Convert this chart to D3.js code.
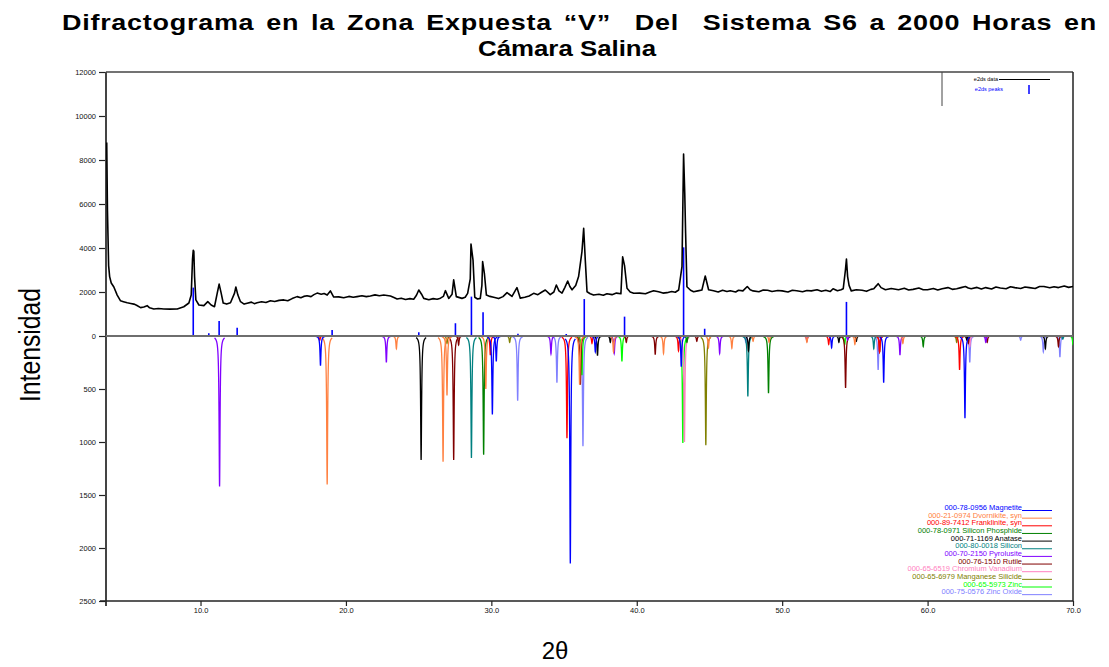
<!DOCTYPE html>
<html>
<head>
<meta charset="utf-8">
<script src="https://cdn.jsdelivr.net/npm/d3@7"></script>
<style>
  body { margin: 0; background: #fff; }
  text { font-family: "Liberation Sans", Arial, sans-serif; }
</style>
</head>
<body>
<svg width="1109" height="667"></svg>
<script>
// measured pattern (2theta, counts)
let dataPts = [[3.55,8800],[3.6,5700],[3.68,3200],[3.75,2700],[3.86,2410],[4.04,2230],[4.27,1860],[4.5,1600],[4.7,1560],[4.96,1510],[5.2,1480],[5.42,1450],[5.6,1400],[5.88,1290],[6.1,1320],[6.33,1380],[6.5,1280],[6.79,1230],[7.1,1250],[7.48,1230],[7.9,1220],[8.4,1230],[8.85,1330],[9.2,1500],[9.36,1860],[9.45,3500],[9.5,3900],[9.54,3850],[9.59,2700],[9.68,1640],[9.89,1410],[10.23,1380],[10.5,1560],[10.73,1410],[10.96,1330],[11.15,1950],[11.28,2360],[11.42,1950],[11.56,1500],[11.8,1450],[12.06,1510],[12.34,1950],[12.43,2230],[12.57,1860],[12.75,1560],[13.0,1450],[13.21,1490],[13.5,1540],[13.7,1470],[13.89,1510],[14.2,1560],[14.5,1520],[14.81,1600],[15.1,1570],[15.4,1620],[15.73,1640],[16.0,1600],[16.3,1700],[16.64,1790],[16.9,1740],[17.1,1800],[17.33,1830],[17.6,1790],[17.8,1880],[18.02,1950],[18.3,1900],[18.5,1930],[18.71,1860],[18.93,2050],[19.16,1770],[19.5,1780],[19.85,1740],[20.2,1800],[20.5,1760],[20.77,1790],[21.1,1830],[21.4,1790],[21.68,1820],[22.0,1870],[22.3,1830],[22.6,1860],[23.06,1820],[23.3,1750],[23.52,1680],[23.8,1720],[24.1,1660],[24.4,1700],[24.66,1670],[24.85,1850],[25.01,2090],[25.2,1900],[25.35,1710],[25.7,1650],[26.0,1700],[26.27,1670],[26.5,1720],[26.7,1800],[26.84,2060],[27.07,1710],[27.3,1900],[27.41,2550],[27.59,1790],[27.98,1710],[28.2,1760],[28.37,1940],[28.55,2600],[28.6,4180],[28.74,3450],[28.86,1760],[29.05,1680],[29.24,1710],[29.35,2300],[29.4,3380],[29.52,2850],[29.66,1860],[29.9,1800],[30.16,1760],[30.5,1700],[30.8,1790],[31.08,1970],[31.42,1800],[31.76,2200],[31.99,1720],[32.3,1760],[32.6,1820],[32.91,1940],[33.2,1880],[33.45,1990],[33.71,2090],[34.05,1880],[34.3,2000],[34.47,2320],[34.65,2050],[34.86,1950],[35.05,2200],[35.25,2500],[35.4,2250],[35.55,2100],[35.8,2300],[36.0,2700],[36.23,3830],[36.35,4890],[36.46,3450],[36.58,2010],[36.8,1920],[37.03,1860],[37.4,1900],[37.7,1850],[37.95,1920],[38.3,1880],[38.6,1950],[38.91,1920],[39.03,3600],[39.16,3200],[39.33,2170],[39.55,2000],[39.79,1940],[40.2,1950],[40.6,1920],[40.9,2000],[41.16,2060],[41.5,2010],[41.8,1950],[42.08,1970],[42.4,2020],[42.65,1990],[42.88,2090],[43.11,3150],[43.22,8270],[43.3,6500],[43.36,4670],[43.45,2240],[43.7,2080],[43.91,2010],[44.2,2050],[44.48,2090],[44.71,2730],[44.94,2100],[45.28,2060],[45.6,2000],[45.9,2080],[46.2,2020],[46.43,2060],[46.8,2000],[47.0,2080],[47.3,2050],[47.6,2250],[47.8,2100],[48.0,2050],[48.4,2010],[48.7,2090],[49.0,2080],[49.3,2020],[49.7,2070],[50.0,2050],[50.4,2000],[50.7,2080],[51.0,2060],[51.4,2010],[51.7,2070],[52.0,2050],[52.4,2100],[52.7,2030],[53.0,2080],[53.3,2020],[53.5,2150],[53.8,2060],[54.05,2100],[54.2,2150],[54.35,3000],[54.42,3500],[54.5,2700],[54.6,2300],[54.75,2050],[55.1,2100],[55.5,2080],[55.8,2030],[56.1,2120],[56.3,2150],[56.5,2300],[56.6,2380],[56.8,2200],[57.1,2100],[57.5,2160],[58.0,2100],[58.4,2170],[58.7,2090],[59.0,2120],[59.4,2180],[59.7,2100],[60.0,2100],[60.4,2160],[60.7,2090],[61.0,2150],[61.4,2200],[61.7,2120],[62.0,2150],[62.3,2200],[62.6,2250],[62.8,2180],[63.0,2150],[63.4,2210],[63.7,2140],[64.0,2200],[64.4,2140],[64.7,2230],[65.0,2180],[65.4,2150],[65.7,2240],[66.0,2200],[66.4,2160],[66.7,2230],[67.0,2200],[67.4,2160],[67.7,2250],[68.0,2250],[68.4,2190],[68.7,2240],[69.0,2200],[69.4,2270],[69.7,2210],[70.0,2250]];

// e2ds peaks (sticks)
let peakPos = [9.5, 10.57, 11.28, 12.52, 19.05, 25.01, 27.53, 28.63, 29.43, 31.83, 35.15, 36.39, 39.16, 43.22, 44.67, 54.42];
let peakInt = [2200, 120, 680, 380, 270, 170, 580, 1790, 1080, 100, 90, 1680, 880, 4030, 330, 1550];

// reference cards
let cardNames = ["000-78-0956 Magnetite", "000-21-0974 Dvornikite, syn", "000-89-7412 Franklinite, syn",
  "000-78-0971 Silicon Phosphide", "000-71-1169 Anatase", "000-80-0018 Silicon", "000-70-2150 Pyrolusite",
  "000-76-1510 Rutile", "000-65-6519 Chromium Vanadium", "000-65-6979 Manganese Silicide",
  "000-65-5973 Zinc", "000-75-0576 Zinc Oxide"];
let cardColors = ["#0000ff", "#ff8040", "#ff0000", "#008000", "#000000", "#008080", "#8000ff",
  "#800000", "#ff80c0", "#808000", "#00ff00", "#8080ff"];
let cardPeaks = [
  [[18.25,280],[30.07,740],[30.34,240],[35.43,2145],[37.15,150],[43.06,290],[53.4,110],[56.98,440],[62.57,775]],
  [[18.71,1400],[23.47,120],[26.68,1185],[26.95,560],[29.62,500],[36.07,460],[38.4,150],[41.84,165],[44.93,110],[46.54,115],[48.0,50],[49.1,60],[51.7,60],[55.0,80],[58.3,70]],
  [[18.2,40],[29.93,180],[35.2,965],[36.92,70],[42.87,140],[53.2,80],[56.7,150],[62.2,320]],
  [[29.47,1120],[43.45,60],[49.06,540],[59.7,100]],
  [[25.17,1170],[37.3,185],[38.18,60],[47.68,140],[53.9,60],[55.1,50],[62.7,40],[68.1,120]],
  [[28.63,1150],[47.64,570],[56.3,120],[69.3,30]],
  [[11.31,1420],[22.78,250],[34.1,170],[38.45,165],[45.7,165],[51.7,50],[54.5,40],[58.1,180],[64.0,60]],
  [[27.41,1170],[27.75,85],[36.12,460],[39.28,60],[41.27,175],[44.13,50],[54.36,490],[56.7,150],[62.8,70],[64.1,60],[69.0,100]],
  [[43.28,1000],[62.9,100]],
  [[26.95,70],[31.26,60],[36.0,60],[44.75,1030],[62.0,60]],
  [[36.23,370],[38.98,240],[43.17,1010],[54.3,80],[70.0,80]],
  [[31.81,610],[34.51,440],[36.3,1040],[47.5,60],[56.6,320],[62.9,250],[66.4,40],[67.96,150],[69.1,200]]
];

let upTicks = [0, 2000, 4000, 6000, 8000, 10000, 12000];
let dnTicks = [500, 1000, 1500, 2000, 2500];
let xTicks = [10, 20, 30, 40, 50, 60, 70];

let svg = d3.select("svg"),
    pLeft = 106, pRight = 1073, pTop = 72, pZero = 336, pBottom = 601;

let x = d3.scaleLinear().domain([3.5, 70]).range([pLeft, pRight]),
    yUp = d3.scaleLinear().domain([0, 12000]).range([pZero, pTop]),
    yDn = d3.scaleLinear().domain([0, 2500]).range([pZero, pBottom]);

svg.append("defs").append("clipPath").attr("id", "clip")
    .append("rect").attr("x", pLeft).attr("y", pTop).attr("width", pRight - pLeft).attr("height", pBottom - pTop);

// title
svg.append("text")
    .attr("x", 62).attr("y", 30)
    .attr("textLength", 1035).attr("lengthAdjust", "spacingAndGlyphs")
    .style("font-size", "22px").style("font-weight", "bold").style("white-space", "pre")
    .style("letter-spacing", "0.6px").style("word-spacing", "3px")
    .text("Difractograma en la Zona Expuesta “V”  Del  Sistema S6 a 2000 Horas en");
svg.append("text")
    .attr("x", 478).attr("y", 56)
    .attr("textLength", 178).attr("lengthAdjust", "spacingAndGlyphs")
    .style("font-size", "22px").style("font-weight", "bold")
    .text("Cámara Salina");

// axis titles
svg.append("text")
    .attr("transform", "translate(40,345) rotate(-90)")
    .attr("text-anchor", "middle")
    .attr("textLength", 114).attr("lengthAdjust", "spacingAndGlyphs")
    .style("font-size", "30px")
    .text("Intensidad");
svg.append("text")
    .attr("x", 555).attr("y", 659).attr("text-anchor", "middle")
    .style("font-size", "24px")
    .text("2θ");

// axes
let axUp = svg.append("g").attr("transform", "translate(" + pLeft + ",0)")
    .call(d3.axisLeft(yUp).tickValues(upTicks).tickSize(7).tickPadding(3).tickFormat(d3.format("d")));
let axDn = svg.append("g").attr("transform", "translate(" + pLeft + ",0)")
    .call(d3.axisLeft(yDn).tickValues(dnTicks).tickSize(7).tickPadding(3).tickFormat(d3.format("d")));
let axX = svg.append("g").attr("transform", "translate(0," + pBottom + ")")
    .call(d3.axisBottom(x).tickValues(xTicks).tickSize(5).tickPadding(2).tickFormat(d3.format(".1f")));

[axUp, axDn, axX].forEach(function(a) {
    a.select(".domain").remove();
    a.selectAll(".tick line").attr("stroke", "#222").attr("stroke-width", 1.2);
    a.selectAll(".tick text").attr("fill", "#111").style("font-size", "7.5px").style("font-family", "Liberation Sans, Arial, sans-serif");
});

// frame
svg.append("line").attr("x1", pLeft).attr("x2", pLeft).attr("y1", pTop).attr("y2", pBottom + 5)
    .attr("stroke", "#444").attr("stroke-width", 2);
svg.append("line").attr("x1", pLeft).attr("x2", pRight).attr("y1", pTop).attr("y2", pTop)
    .attr("stroke", "#444").attr("stroke-width", 1.5);
svg.append("line").attr("x1", pRight).attr("x2", pRight).attr("y1", pTop).attr("y2", pBottom)
    .attr("stroke", "#222").attr("stroke-width", 1.5);
svg.append("line").attr("x1", pLeft - 6).attr("x2", pRight).attr("y1", pBottom).attr("y2", pBottom)
    .attr("stroke", "#222").attr("stroke-width", 1.5);

let plot = svg.append("g").attr("clip-path", "url(#clip)");

// reference profiles (drawn downward), Magnetite last so it sits on top
let hw = 0.04;
let prof = d3.line()
    .x(function(d) { return x(d[0]); })
    .y(function(d) { return yDn(d[1]); });

function profile(p) {
    let pts = [];
    for (let t = -0.35; t <= 0.3501; t += 0.005) {
        let u = t / hw;
        pts.push([p[0] + t, p[1] / (1 + u * u)]);
    }
    return pts;
}

for (let k = cardPeaks.length - 1; k >= 0; k--) {
    plot.append("g").selectAll("path")
        .data(cardPeaks[k])
        .enter().append("path")
        .attr("d", function(p) { return prof(profile(p)); })
        .attr("fill", "none")
        .attr("stroke", cardColors[k])
        .attr("stroke-width", 1.3);
}

// zero line
svg.append("line").attr("x1", pLeft).attr("x2", pRight).attr("y1", pZero).attr("y2", pZero)
    .attr("stroke", "#6e6e6e").attr("stroke-width", 2.2);

// e2ds peaks
plot.selectAll(".stick")
    .data(peakPos)
    .enter().append("line")
    .attr("class", "stick")
    .attr("x1", function(d) { return x(d); })
    .attr("x2", function(d) { return x(d); })
    .attr("y1", yUp(0))
    .attr("y2", function(d, i) { return yUp(peakInt[i]); })
    .attr("stroke", "#0000ff")
    .attr("stroke-width", 1.6);

// e2ds data
let line = d3.line()
    .x(function(d) { return x(d[0]); })
    .y(function(d) { return yUp(d[1]); });

plot.append("path")
    .datum(dataPts)
    .attr("d", line)
    .attr("fill", "none")
    .attr("stroke", "#000")
    .attr("stroke-width", 1.6)
    .attr("stroke-linejoin", "round");

// top legend
svg.append("line").attr("x1", 942).attr("x2", 942).attr("y1", pTop).attr("y2", 106)
    .attr("stroke", "#444").attr("stroke-width", 1);
svg.append("text").attr("x", 998).attr("y", 81).attr("text-anchor", "end")
    .style("font-size", "5.5px").text("e2ds data");
svg.append("line").attr("x1", 999).attr("x2", 1050).attr("y1", 79.5).attr("y2", 79.5)
    .attr("stroke", "#000").attr("stroke-width", 1.2);
svg.append("text").attr("x", 1003).attr("y", 91).attr("text-anchor", "end")
    .attr("fill", "#0000ff").style("font-size", "5.5px").text("e2ds peaks");
svg.append("line").attr("x1", 1029).attr("x2", 1029).attr("y1", 85).attr("y2", 94)
    .attr("stroke", "#0000ff").attr("stroke-width", 1.5);

// bottom legend
let leg = svg.append("g").selectAll("g")
    .data(cardNames)
    .enter().append("g")
    .attr("transform", function(d, i) { return "translate(0," + (510 + i * 7.65) + ")"; });
leg.append("text")
    .attr("x", 1022).attr("text-anchor", "end")
    .attr("fill", function(d, i) { return cardColors[i]; })
    .style("font-size", "7.5px")
    .text(function(d) { return d; });
leg.append("line")
    .attr("x1", 1022).attr("x2", 1052).attr("y1", 0.5).attr("y2", 0.5)
    .attr("stroke", function(d, i) { return cardColors[i]; })
    .attr("stroke-width", 1);
</script>
</body>
</html>
